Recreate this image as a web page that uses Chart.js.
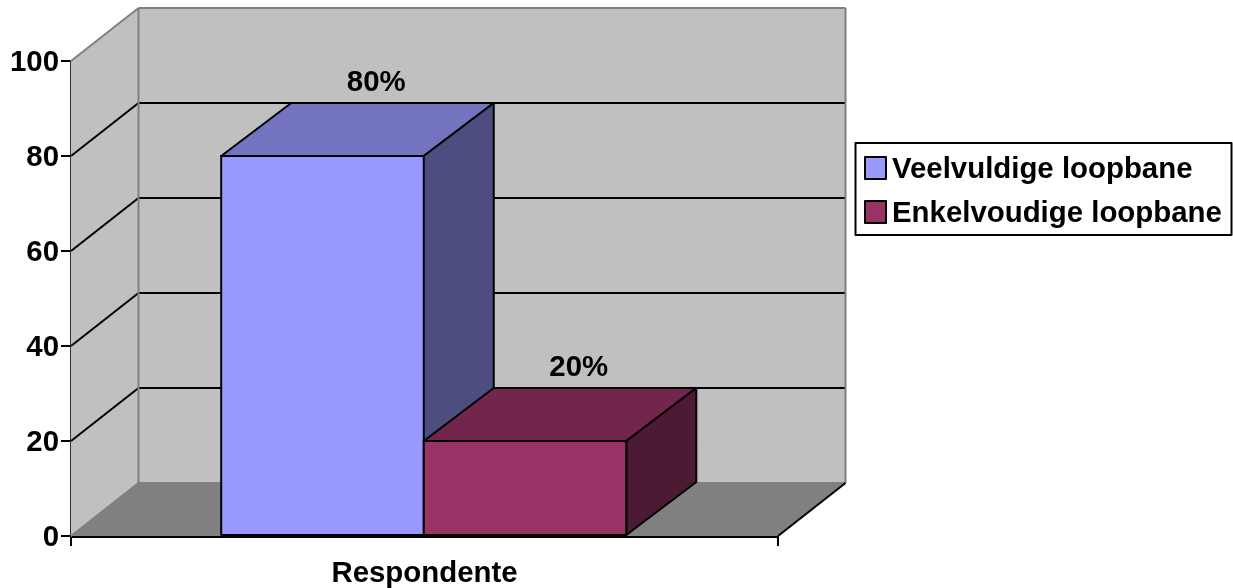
<!DOCTYPE html>
<html>
<head>
<meta charset="utf-8">
<style>html,body{margin:0;padding:0;background:#fff}canvas{display:block}</style>
<script src="https://cdn.jsdelivr.net/npm/chart.js@4/dist/chart.umd.js"></script>
</head>
<body>
<canvas id="c" width="1233" height="588"></canvas>
<script>
const categories = ["Respondente"];
const seriesNames = ["Veelvuldige loopbane", "Enkelvoudige loopbane"];
const veelvuldige = [80];
const enkelvoudige = [20];
const valueLabels = ["80%", "20%"];
const frontColors = ["#9999FF", "#993366"];
const topColors = ["#7373BF", "#73264D"];
const sideColors = ["#4D4D80", "#4D1A33"];
const FONT = 'bold 29.4px "Liberation Sans"';
const WALL = {dx: 67.5, dy: -53};
const BAR = {dx: 70, dy: -53, nudge: -0.75};

function poly(ctx, pts, fill, stroke, lw) {
  ctx.beginPath();
  pts.forEach((p, i) => i ? ctx.lineTo(p[0], p[1]) : ctx.moveTo(p[0], p[1]));
  ctx.closePath();
  if (fill) { ctx.fillStyle = fill; ctx.fill(); }
  if (stroke) { ctx.strokeStyle = stroke; ctx.lineWidth = lw; ctx.lineJoin = 'round'; ctx.stroke(); }
}
function line(ctx, a, b, color, lw) {
  ctx.beginPath(); ctx.moveTo(a[0], a[1]); ctx.lineTo(b[0], b[1]);
  ctx.strokeStyle = color; ctx.lineWidth = lw; ctx.stroke();
}

const scene3d = {
  id: 'scene3d',
  beforeDatasetsDraw(chart) {
    const {ctx, chartArea: ca, scales} = chart;
    const {left: l, right: r, top: t, bottom: b} = ca;
    const dx = WALL.dx, dy = WALL.dy;
    poly(ctx, [[l, t], [l + dx, t + dy], [l + dx, b + dy], [l, b]], '#C0C0C0');
    poly(ctx, [[l + dx, t + dy], [r + dx, t + dy], [r + dx, b + dy], [l + dx, b + dy]], '#C0C0C0');
    poly(ctx, [[l, b], [l + dx, b + dy], [r + dx, b + dy], [r, b]], '#808080');
    scales.y.ticks.forEach(tk => {
      if (tk.value === 0 || tk.value === 100) return;
      const y = scales.y.getPixelForValue(tk.value);
      line(ctx, [l, y], [l + dx, y + dy], '#000', 2);
      line(ctx, [l + dx, y + dy], [r + dx, y + dy], '#000', 2);
    });
    const g = '#808080';
    line(ctx, [l, t], [l + dx, t + dy], g, 2);
    line(ctx, [l + dx, t + dy], [r + dx, t + dy], g, 2);
    line(ctx, [l + dx, t + dy], [l + dx, b + dy], g, 2);
    line(ctx, [r + dx, t + dy], [r + dx, b + dy], g, 2);
    line(ctx, [l + dx, b + dy], [r + dx, b + dy], g, 2);
    line(ctx, [l, b], [l + dx, b + dy], g, 2);
    line(ctx, [r, b], [r + dx, b + dy], '#000', 2);
    // depth faces of the bars, first series first so the second sits in front of it
    chart.data.datasets.forEach((ds, i) => {
      chart.getDatasetMeta(i).data.forEach(el => {
        const p = el.getProps(['x', 'y', 'base', 'width'], true);
        const x0 = p.x - p.width / 2 + BAR.nudge, x1 = p.x + p.width / 2 + BAR.nudge;
        const bx = BAR.dx, by = BAR.dy;
        poly(ctx, [[x0, p.y], [x0 + bx, p.y + by], [x1 + bx, p.y + by], [x1, p.y]], topColors[i], '#000', 2);
        poly(ctx, [[x1, p.y], [x1 + bx, p.y + by], [x1 + bx, p.base + by], [x1, p.base]], sideColors[i], '#000', 2);
      });
    });
  },
  afterDatasetsDraw(chart) {
    const {ctx} = chart;
    ctx.save();
    // outlines of the front faces, centred on the bar edges
    chart.data.datasets.forEach((ds, i) => {
      chart.getDatasetMeta(i).data.forEach(el => {
        const p = el.getProps(['x', 'y', 'base', 'width'], true);
        const x0 = p.x - p.width / 2 + BAR.nudge, x1 = p.x + p.width / 2 + BAR.nudge;
        poly(ctx, [[x0, p.y], [x1, p.y], [x1, p.base], [x0, p.base]], frontColors[i], '#000', 2);
      });
    });
    ctx.font = FONT;
    ctx.fillStyle = '#000';
    ctx.textAlign = 'center';
    ctx.textBaseline = 'middle';
    chart.data.datasets.forEach((ds, i) => {
      const el = chart.getDatasetMeta(i).data[0];
      ctx.fillText(valueLabels[i], el.x + 53, el.y - 73);
    });
    // legend
    poly(ctx, [[855.5, 143], [1231.5, 143], [1231.5, 235], [855.5, 235]], '#fff', '#000', 2);
    const rows = [168, 212];
    seriesNames.forEach((name, i) => {
      const y = rows[i];
      ctx.lineJoin = 'miter';
      poly(ctx, [[865, y - 11], [886, y - 11], [886, y + 11], [865, y + 11]], frontColors[i], '#000', 2);
      ctx.font = FONT;
      ctx.fillStyle = '#000';
      ctx.textAlign = 'left';
      ctx.textBaseline = 'middle';
      ctx.fillText(name, 892, y + 2);
    });
    ctx.restore();
  }
};

new Chart(document.getElementById('c'), {
  type: 'bar',
  data: {
    labels: categories,
    datasets: [
      {label: seriesNames[0], data: veelvuldige, backgroundColor: frontColors[0], borderWidth: 0},
      {label: seriesNames[1], data: enkelvoudige, backgroundColor: frontColors[1], borderWidth: 0}
    ]
  },
  options: {
    responsive: false,
    animation: false,
    layout: {padding: {top: 61, right: 455, left: 0, bottom: 0}},
    datasets: {bar: {barPercentage: 1, categoryPercentage: 0.573}},
    plugins: {legend: {display: false}, tooltip: {enabled: false}},
    scales: {
      x: {
        afterFit(s) { s.height = 52; },
        grid: {drawOnChartArea: false, color: '#000', lineWidth: 2, tickLength: 10, tickWidth: 2},
        border: {color: '#000', width: 3},
        ticks: {color: '#000', font: {family: 'Liberation Sans', size: 29.4, weight: 'bold'}, padding: 10, maxRotation: 0}
      },
      y: {
        min: 0, max: 100,
        afterFit(s) { s.width = 71; },
        grid: {drawOnChartArea: false, color: '#000', lineWidth: 2, tickLength: 10},
        border: {color: '#333', width: 2},
        ticks: {stepSize: 20, color: '#000', font: {family: 'Liberation Sans', size: 29.4, weight: 'bold'}, padding: 2, labelOffset: 2}
      }
    }
  },
  plugins: [scene3d]
});
</script>
</body>
</html>
